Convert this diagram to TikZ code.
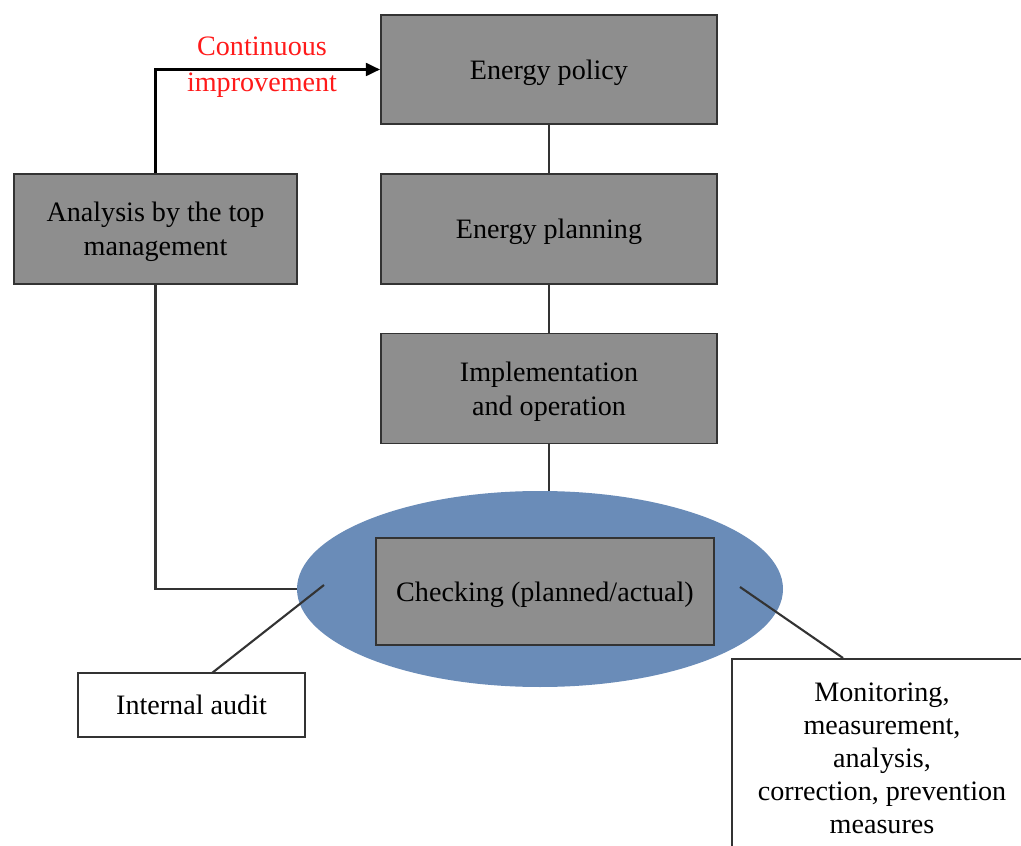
\documentclass[tikz,border=0pt]{standalone}
\usepackage{fontspec}
\setmainfont{Liberation Serif}
\usetikzlibrary{arrows.meta,shapes.geometric}
\definecolor{boxgray}{HTML}{8E8E8E}
\definecolor{ellblue}{HTML}{6A8CB8}
\definecolor{edgegray}{HTML}{333333}
\definecolor{redtxt}{HTML}{FF1A1A}
\begin{document}
\begin{tikzpicture}[x=0.025cm,y=-0.025cm,
  txt/.style={font=\fontsize{20}{24.2}\selectfont, align=center},
  graybox/.style={txt, draw=edgegray, line width=1.4pt, fill=boxgray, inner sep=0pt, text depth=0pt},
  whitebox/.style={txt, draw=edgegray, line width=1.4pt, fill=white, inner sep=0pt},
  conn/.style={draw=edgegray, line width=1.5pt}]
\useasboundingbox (0,0) rectangle (1021,846);
\clip (0,0) rectangle (1021,846);
% ellipse
\node[ellipse, fill=ellblue, minimum width=486*0.025cm, minimum height=196*0.025cm, inner sep=0pt] (ell) at (540,589) {};
% boxes
\node[graybox, minimum width=8.4cm, minimum height=2.725cm] (policy) at (549,69.5) {Energy policy};
\node[graybox, minimum width=7.075cm, minimum height=2.75cm] (analysis) at (155.5,229) {Analysis by the top\\management};
\node[graybox, minimum width=8.4cm, minimum height=2.75cm] (planning) at (549,229) {Energy planning};
\node[graybox, minimum width=8.4cm, minimum height=2.75cm] (impl) at (549,388.5) {Implementation\\and operation};
\node[graybox, minimum width=8.45cm, minimum height=2.675cm] (check) at (545,591.5) {Checking (planned/actual)};
\node[whitebox, minimum width=5.675cm, minimum height=1.6cm] (audit) at (191.5,705) {Internal audit};
\node[whitebox, minimum width=302*0.025cm, minimum height=240*0.025cm, anchor=north west] (monitbox) at (731,658) {};
\node[txt, font=\fontsize{20}{23.5}\selectfont, anchor=north] (monit) at (882,678) {Monitoring,\\measurement,\\analysis,\\correction, prevention\\measures};
\node[txt, text=redtxt, font=\fontsize{20}{25.2}\selectfont] (ci) at (262,67) {Continuous\\improvement};
% connectors
\coordinate (auditin) at (324,585);
\coordinate (monitin) at (740,587);
\coordinate (audittop) at (212,673);
\coordinate (monittop) at (843,658);
\draw[conn] (policy.south) -- (planning.north);
\draw[conn] (planning.south) -- (impl.north);
\draw[conn] (impl.south) -- (impl.south |- ell.north);
\draw[conn] (analysis.south) |- (ell.west);
\draw[draw=black, line width=1.7pt, -{Triangle[length=0.35cm,width=0.32cm]}] (analysis.north) |- (policy.west);
\draw[conn] (audittop) -- (auditin);
\draw[conn] (monittop) -- (monitin);
\end{tikzpicture}
\end{document}
